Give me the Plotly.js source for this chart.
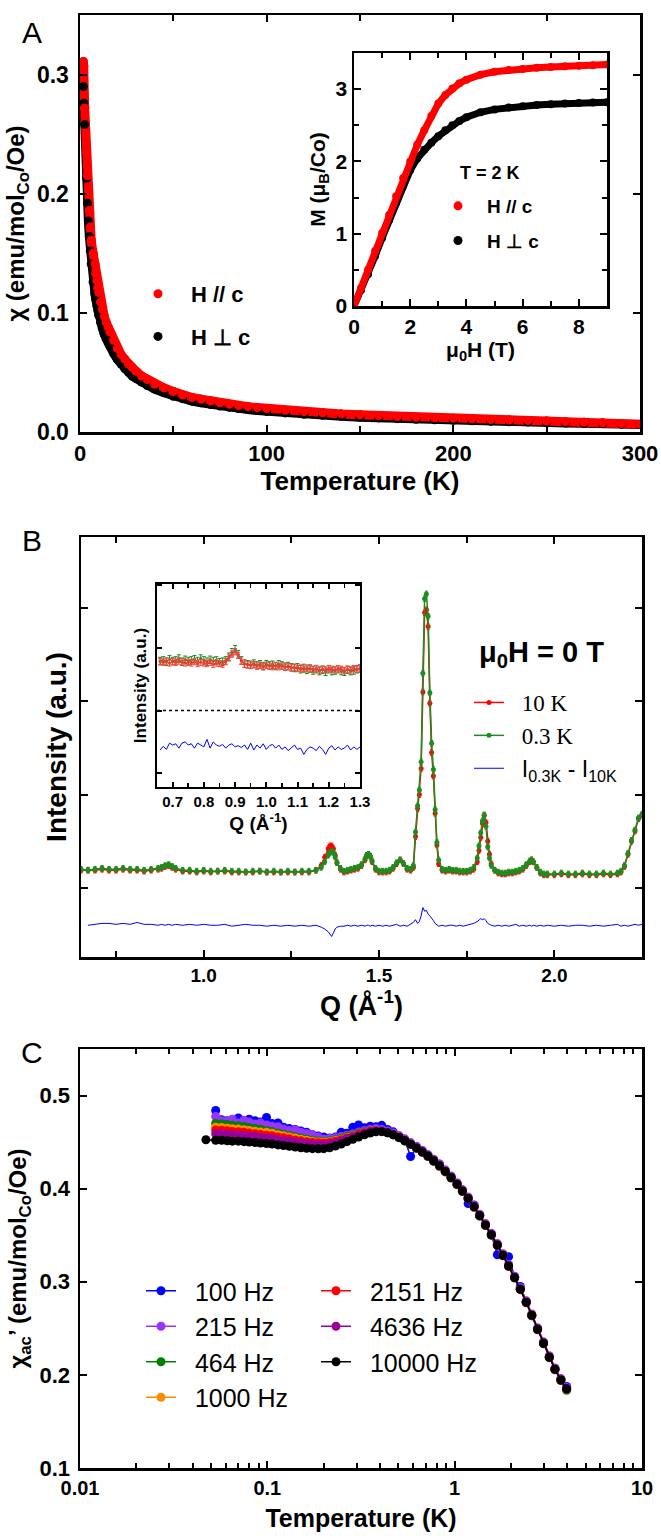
<!DOCTYPE html>
<html><head><meta charset="utf-8">
<script src="https://cdn.plot.ly/plotly-3.0.1.min.js"></script>
<style>body{margin:0;background:#fff}#chart{width:661px;height:1536px}</style>
</head><body><div id="chart"></div>
<script>
// ---------- Panel A: chi vs T ----------
const tempA = [1.8,2,2.5,3.5,4,4.5,5,5.5,6,7, 8,8.5,9,9.5,10,11,12,13,14,15, 16,18,20,22,24,26,28,30,33,36,
  40,45,50,55,60,65,70,75,80,85, 90,95,100,110,120,130,140,150,160,170, 180,190,200,210,220,230,240,250,260,270, 280,290,300];
const chiPar = [.311,.307,.272,.235,.215,.201,.186,.172,.161,.150, .141,.133,.127,.121,.117,.109,.103,.097,.092,.088,
  .084,.077,.070,.065,.061,.057,.054,.051,.047,.044, .040,.037,.034,.031,.029,.0275,.026,.0245,.0233,.0222,
  .0213,.0205,.0197,.0183,.0171,.0161,.0152,.0144,.0137,.013, .0124,.0119,.0115,.011,.0105,.0101,.0097,.0092,.0087,.0082,
  .0077,.0071,.0066];
const chiPerp = [.290,.276,.258,.213,.192,.177,.164,.152,.141,.126, .116,.111,.106,.102,.098,.092,.087,.082,.078,.075,
  .072,.066,.061,.057,.053,.050,.047,.045,.042,.039, .036,.033,.030,.028,.026,.0245,.023,.0218,.0207,.0197,
  .0188,.018,.0173,.016,.0149,.014,.0132,.0124,.0118,.0112, .0107,.0102,.0098,.0094,.009,.0086,.0083,.008,.0076,.0073,
  .007,.0066,.0062];
// Inset A: M vs H at 2 K
const fieldH = [0,0.25,0.5,0.75,1,1.25,1.5,1.75,2,2.25,2.5,2.75,3,3.25,3.5,3.75,4,4.5,5,5.5,6,6.5,7,7.5,8,8.5,9];
const magPar = [0,0.25,0.5,0.76,1.01,1.26,1.52,1.77,2.0,2.23,2.43,2.63,2.80,2.92,3.01,3.08,3.13,3.20,3.24,3.265,3.28,3.295,3.305,3.315,3.325,3.33,3.34];
const magPerp = [0,0.22,0.44,0.69,0.94,1.19,1.43,1.67,1.88,2.04,2.16,2.26,2.35,2.43,2.50,2.56,2.61,2.68,2.72,2.745,2.765,2.78,2.79,2.80,2.81,2.815,2.82];

// ---------- Panel B: neutron diffraction ----------
const qB = [0.65,0.67,0.69,0.71,0.73,0.75,0.77,0.79,0.81,0.83,
  0.85,0.87,0.88,0.89,0.90,0.91,0.92,0.94,0.96,0.98,
  1.00,1.02,1.04,1.06,1.08,1.10,1.12,1.14,1.16,1.18,
  1.20,1.22,1.24,1.26,1.28,1.30,1.32,1.335,1.345,1.355,
  1.36,1.365,1.37,1.375,1.38,1.39,1.40,1.41,1.42,1.43,
  1.44,1.45,1.46,1.465,1.47,1.475,1.48,1.49,1.50,1.51,
  1.52,1.53,1.54,1.55,1.56,1.57,1.58,1.59,1.598,1.604,
  1.61,1.615,1.62,1.625,1.63,1.635,1.64,1.645,1.65,1.655,
  1.66,1.665,1.67,1.68,1.69,1.70,1.71,1.72,1.73,1.74,
  1.75,1.76,1.77,1.78,1.785,1.79,1.795,1.80,1.805,1.81,
  1.815,1.82,1.83,1.84,1.85,1.86,1.87,1.88,1.89,1.90,
  1.91,1.92,1.93,1.935,1.94,1.95,1.96,1.97,1.98,2.00,
  2.02,2.04,2.06,2.08,2.10,2.12,2.14,2.16,2.18,2.19,
  2.20,2.21,2.22,2.23,2.24,2.25];
const int03K = [1.20,1.19,1.20,1.21,1.20,1.20,1.21,1.20,1.20,1.19,
  1.20,1.21,1.22,1.24,1.25,1.23,1.21,1.19,1.19,1.18,
  1.19,1.18,1.18,1.19,1.18,1.18,1.17,1.18,1.18,1.17,
  1.18,1.17,1.18,1.17,1.18,1.18,1.19,1.22,1.28,1.35,
  1.38,1.39,1.38,1.33,1.27,1.21,1.18,1.19,1.20,1.21,
  1.22,1.25,1.31,1.35,1.36,1.34,1.29,1.21,1.18,1.18,
  1.18,1.19,1.22,1.27,1.30,1.26,1.21,1.20,1.24,1.60,
  1.88,2.05,2.35,3.30,4.10,4.15,3.91,3.09,2.55,2.27,
  1.84,1.49,1.30,1.20,1.19,1.20,1.19,1.19,1.18,1.18,
  1.18,1.19,1.22,1.32,1.45,1.59,1.72,1.78,1.66,1.44,
  1.32,1.24,1.19,1.17,1.16,1.16,1.17,1.17,1.18,1.19,
  1.21,1.25,1.29,1.30,1.28,1.22,1.17,1.15,1.15,1.15,
  1.16,1.15,1.15,1.16,1.15,1.15,1.16,1.15,1.16,1.18,
  1.24,1.37,1.51,1.62,1.75,1.79];
const int10K = [1.19,1.19,1.19,1.20,1.19,1.19,1.20,1.19,1.19,1.18,
  1.19,1.20,1.21,1.23,1.24,1.22,1.20,1.18,1.18,1.17,
  1.18,1.17,1.18,1.18,1.17,1.17,1.17,1.17,1.18,1.17,
  1.17,1.17,1.17,1.17,1.17,1.17,1.19,1.24,1.33,1.42,
  1.45,1.45,1.42,1.35,1.27,1.20,1.17,1.18,1.19,1.20,
  1.21,1.24,1.30,1.35,1.36,1.34,1.28,1.20,1.17,1.17,
  1.17,1.18,1.21,1.26,1.30,1.26,1.20,1.19,1.22,1.55,
  1.85,2.00,2.28,3.10,3.95,3.98,3.80,2.98,2.45,2.20,
  1.80,1.46,1.26,1.19,1.18,1.19,1.18,1.18,1.17,1.17,
  1.17,1.18,1.20,1.28,1.40,1.54,1.69,1.78,1.70,1.50,
  1.36,1.26,1.19,1.16,1.15,1.15,1.16,1.16,1.17,1.18,
  1.20,1.24,1.28,1.30,1.28,1.22,1.16,1.14,1.14,1.14,
  1.15,1.14,1.14,1.15,1.14,1.14,1.15,1.14,1.15,1.17,
  1.23,1.36,1.50,1.61,1.74,1.78];
const intDiff = [null,0.60,0.61,0.62,0.62,0.61,0.62,0.61,0.63,0.61,
  0.61,0.60,0.61,0.60,0.61,0.60,0.61,0.60,0.61,0.60,
  0.61,0.60,0.60,0.61,0.59,0.60,0.61,0.60,0.60,0.59,
  0.60,0.59,0.60,0.59,0.60,0.59,0.60,0.58,0.56,0.53,
  0.50,0.48,0.52,0.56,0.58,0.59,0.59,0.60,0.59,0.60,
  0.59,0.60,0.59,0.60,0.60,0.59,0.60,0.59,0.60,0.59,
  0.60,0.59,0.60,0.61,0.59,0.60,0.59,0.61,0.63,0.66,
  0.62,0.64,0.70,0.79,0.75,0.76,0.72,0.70,0.68,0.65,
  0.62,0.60,0.59,0.60,0.59,0.60,0.60,0.59,0.60,0.59,
  0.60,0.61,0.62,0.64,0.66,0.67,0.66,0.67,0.65,0.62,
  0.61,0.60,0.59,0.60,0.59,0.60,0.59,0.60,0.61,0.59,
  0.60,0.59,0.60,0.59,0.60,0.59,0.60,0.59,0.60,0.59,
  0.60,0.59,0.60,0.60,0.59,0.60,0.59,0.60,0.61,0.59,
  0.60,0.59,0.60,0.61,0.60,0.61];
// Inset B (zoom of low-Q region)
const qInset = [0.66,0.67,0.68,0.69,0.70,0.71,0.72,0.73,0.74,0.75,
  0.76,0.77,0.78,0.79,0.80,0.81,0.82,0.83,0.84,0.85,
  0.86,0.87,0.88,0.89,0.90,0.91,0.92,0.93,0.94,0.95,
  0.96,0.97,0.98,0.99,1.00,1.01,1.02,1.03,1.04,1.05,
  1.06,1.07,1.08,1.09,1.10,1.11,1.12,1.13,1.14,1.15,
  1.16,1.17,1.18,1.19,1.20,1.21,1.22,1.23,1.24,1.25,
  1.26,1.27,1.28,1.29,1.30];
const inset10K = [0.78,0.77,0.79,0.76,0.78,0.77,0.79,0.78,0.76,0.77,
  0.76,0.78,0.75,0.77,0.76,0.75,0.77,0.74,0.76,0.75,
  0.74,0.78,0.84,0.90,0.94,0.88,0.79,0.74,0.73,0.72,
  0.73,0.71,0.72,0.70,0.72,0.71,0.70,0.72,0.70,0.71,
  0.69,0.70,0.68,0.69,0.67,0.68,0.66,0.68,0.67,0.66,
  0.67,0.65,0.66,0.65,0.67,0.66,0.65,0.67,0.66,0.64,
  0.66,0.65,0.67,0.66,0.68];
const inset03K = [0.79,0.80,0.78,0.82,0.79,0.80,0.83,0.78,0.81,0.79,
  0.80,0.82,0.79,0.83,0.80,0.78,0.81,0.79,0.80,0.77,
  0.78,0.80,0.86,0.93,0.98,0.90,0.80,0.75,0.74,0.73,
  0.75,0.72,0.74,0.71,0.74,0.72,0.73,0.71,0.74,0.72,
  0.70,0.71,0.69,0.68,0.69,0.66,0.68,0.65,0.67,0.64,
  0.66,0.63,0.65,0.62,0.66,0.63,0.64,0.66,0.63,0.62,
  0.65,0.63,0.64,0.66,0.67];
const insetDiff = [-0.63,-0.57,-0.62,-0.52,-0.55,-0.53,-0.60,-0.52,-0.50,-0.55,
  -0.53,-0.60,-0.52,-0.55,-0.58,-0.46,-0.60,-0.50,-0.55,-0.57,
  -0.54,-0.60,-0.55,-0.53,-0.58,-0.56,-0.59,-0.55,-0.62,-0.52,
  -0.63,-0.55,-0.60,-0.53,-0.62,-0.56,-0.54,-0.60,-0.55,-0.62,
  -0.58,-0.64,-0.59,-0.55,-0.62,-0.60,-0.70,-0.62,-0.58,-0.60,
  -0.64,-0.57,-0.62,-0.70,-0.60,-0.56,-0.63,-0.58,-0.62,-0.60,
  -0.55,-0.63,-0.58,-0.62,-0.58];

// ---------- Panel C: ac susceptibility ----------
const tempC = [0.047,0.053,0.057,0.061,0.065,0.07,0.075,0.08,0.086,0.092,
  0.099,0.106,0.114,0.122,0.131,0.141,0.151,0.162,0.174,0.187,
  0.2,0.215,0.231,0.248,0.266,0.286,0.307,0.33,0.354,0.38,
  0.408,0.438,0.47,0.505,0.542,0.582,0.625,0.671,0.72,0.773,
  0.83,0.891,0.957,1.03,1.1,1.18,1.27,1.36,1.46,1.57,
  1.69,1.81,1.94,2.09,2.24,2.41,2.58,2.77,2.98,3.2,
  3.43,3.69,3.96];
const freqNames = ['100 Hz','215 Hz','464 Hz','1000 Hz','2151 Hz','4636 Hz','10000 Hz'];
const chi100 = [null,.484,.474,.473,.4725,.476,.4705,.4745,.473,.4715,
  .4765,.470,.4705,.466,.4645,.4635,.462,.4605,.458,.4565,
  .4555,.4545,.4555,.4605,.4595,.466,.4685,.4655,.467,.4665,
  .468,.4635,.461,.456,.452,.4345,.4445,.4405,.436,.4295,
  .4265,.4185,.4125,.405,.398,.384,.3825,.372,.361,.3505,
  .329,.3295,.327,.305,.295,.279,.2635,.2495,.2345,.219,
  .2065,.1955,.1875];
const chi215 = [null,.4775,.473,.4725,.4745,.4705,.4735,.4715,.4695,.4705,
  .4685,.467,.4665,.464,.4625,.463,.4605,.4592,.4575,.4555,
  .453,.454,.4548,.456,.4575,.459,.4608,.4625,.4635,.4645,
  .4635,.462,.4598,.457,.4535,.4495,.4455,.4412,.4366,.4316,
  .4262,.4202,.4136,.4064,.399,.391,.382,.3725,.3625,.352,
  .341,.33,.3185,.306,.2935,.2795,.2655,.2505,.2355,.2205,
  .2075,.196,.1865];
const chi464 = [null,.470,.4696,.4688,.468,.4675,.4667,.4658,.4648,.4638,
  .4625,.4613,.4598,.4585,.4572,.4558,.4545,.4533,.4522,.4513,
  .451,.4513,.4525,.4542,.4562,.458,.4595,.461,.4622,.4625,
  .4616,.4601,.4578,.4548,.4512,.4474,.4433,.439,.4345,.4295,
  .424,.418,.4115,.4043,.397,.389,.380,.3705,.3605,.350,
  .339,.328,.3165,.304,.2915,.2775,.2635,.2485,.2335,.2185,
  .2055,.194,.1835];
const chi1000 = [null,.466,.4657,.465,.4643,.464,.4632,.4625,.4617,.4608,
  .4605,.4595,.458,.4568,.4555,.4543,.4531,.452,.451,.4502,
  .45,.4505,.4516,.4532,.455,.4568,.4585,.4603,.4618,.4622,
  .4617,.4603,.4582,.4553,.4518,.448,.444,.4397,.4352,.4302,
  .4247,.4187,.4122,.405,.3977,.3897,.3807,.3712,.3612,.3507,
  .3397,.3287,.3172,.3047,.2922,.2782,.2642,.2492,.2342,.2192,
  .2062,.1947,.1852];
const chi2151 = [null,.463,.4628,.4621,.4614,.4612,.4605,.4598,.459,.4583,
  .4575,.4568,.4556,.4546,.4535,.4524,.4514,.4505,.4498,.4492,
  .449,.4495,.4508,.4525,.4545,.4565,.4585,.4602,.4618,.462,
  .4615,.4602,.458,.455,.4515,.4476,.4436,.4393,.4348,.4298,
  .4243,.4183,.4118,.4046,.3973,.3893,.3803,.3708,.3608,.3503,
  .3393,.3283,.3168,.3043,.2918,.2778,.2638,.2488,.2338,.2188,
  .2058,.1943,.1845];
const chi4636 = [null,.459,.4589,.4584,.4578,.4577,.4571,.4565,.4559,.4553,
  .4545,.4539,.4528,.452,.4511,.4501,.4493,.4486,.448,.4475,
  .4475,.4481,.4494,.4512,.4533,.4555,.4575,.4593,.4611,.462,
  .4618,.4605,.458,.4552,.452,.448,.444,.4398,.4352,.4303,
  .4248,.4188,.4122,.405,.3978,.3898,.3808,.3712,.3612,.3508,
  .3398,.3288,.3172,.3048,.2922,.2782,.2642,.2492,.2342,.2192,
  .2062,.1948,.1855];
const chi10000 = [.4525,.452,.452,.4515,.451,.451,.4505,.450,.4495,.449,
  .4485,.448,.447,.4463,.4455,.4447,.444,.4434,.443,.4428,
  .443,.444,.4458,.448,.4505,.453,.4555,.4578,.4598,.461,
  .4612,.460,.4578,.455,.4515,.4478,.4438,.4395,.435,.430,
  .4245,.4185,.412,.4048,.3975,.3895,.3805,.371,.361,.3505,
  .3395,.3285,.317,.3045,.292,.278,.264,.249,.234,.219,
  .206,.1945,.185];
const chiAC = [chi100,chi215,chi464,chi1000,chi2151,chi4636,chi10000];
const freqColors = ['#0000ff','#9933ff','#008000','#ff8c00','#ff0000','#990099','#000000'];

// ---------- layout helpers ----------
const W = 661, H = 1536;
const px = v => v / W, py = v => 1 - v / H;
const FONT = 'Liberation Sans, Arial, sans-serif';
const GAP = '\u00a0\u00a0';
function ax(o) {
  return Object.assign({showline:true, linecolor:'black', linewidth:2.5, mirror:'ticks', ticks:'inside',
    ticklen:7, tickwidth:2, tickcolor:'black', showgrid:false, zeroline:false, automargin:false, fixedrange:true,
    tickfont:{family:FONT, size:20, color:'black', weight:'bold'}}, o);
}
function ttl(text, size, standoff) {
  return {text:text, font:{family:FONT, size:size, color:'black', weight:'bold'}, standoff:standoff};
}
function tf(size) { return {family:FONT, size:size, color:'black', weight:'bold'}; }

const traces = [];
// Panel A main
traces.push({x:tempA, y:chiPerp, mode:'lines', line:{color:'black', width:9}, xaxis:'x', yaxis:'y', showlegend:false, hoverinfo:'skip'});
traces.push({x:tempA, y:chiPar, mode:'lines', line:{color:'#ff0000', width:9}, xaxis:'x', yaxis:'y', showlegend:false, hoverinfo:'skip'});
traces.push({x:tempA, y:chiPar, mode:'markers', marker:{color:'#ff0000', size:9}, xaxis:'x', yaxis:'y', name:'H // c', legend:'legend', legendgroup:'a1'});
traces.push({x:tempA, y:chiPerp, mode:'markers', marker:{color:'black', size:9}, xaxis:'x', yaxis:'y', name:'H ⊥ c', legend:'legend', legendgroup:'a2'});
traces.push({x:tempA, y:chiPar, mode:'markers', marker:{color:'#ff0000', size:9}, xaxis:'x', yaxis:'y', showlegend:false});
// Inset A
traces.push({x:fieldH, y:magPerp, mode:'lines+markers', line:{color:'black', width:7}, marker:{color:'black', size:8}, xaxis:'x2', yaxis:'y2', showlegend:false});
traces.push({x:fieldH, y:magPar, mode:'lines+markers', line:{color:'#ff0000', width:7}, marker:{color:'#ff0000', size:8}, xaxis:'x2', yaxis:'y2', showlegend:false});
traces.push({x:[null], y:[null], mode:'markers', marker:{color:'#ff0000', size:9}, xaxis:'x2', yaxis:'y2', name:'H // c', legend:'legend2', legendgroup:'b1'});
traces.push({x:[null], y:[null], mode:'markers', marker:{color:'black', size:9}, xaxis:'x2', yaxis:'y2', name:'H ⊥ c', legend:'legend2', legendgroup:'b2'});
// Panel B main
const GREEN = '#1e8c1e';
traces.push({x:qB, y:int10K, mode:'lines+markers', line:{color:'#ff0000', width:1.5}, marker:{color:'#ff0000', size:5},
  error_y:{type:'constant', value:0.03, color:'#ff0000', thickness:1, width:1.5},
  xaxis:'x3', yaxis:'y3', name:GAP + '<span style="font-family:Liberation Serif">10 K</span>', legend:'legend3', legendgroup:'c1'});
traces.push({x:qB, y:int03K, mode:'lines+markers', line:{color:GREEN, width:1.5}, marker:{color:GREEN, size:5},
  error_y:{type:'constant', value:0.03, color:GREEN, thickness:1, width:1.5},
  xaxis:'x3', yaxis:'y3', name:GAP + '<span style="font-family:Liberation Serif">0.3 K</span>', legend:'legend3', legendgroup:'c2'});
traces.push({x:qB, y:intDiff, mode:'lines', line:{color:'#0000ff', width:1}, xaxis:'x3', yaxis:'y3',
  name:GAP + 'I<sub>0.3K</sub> - I<sub>10K</sub>', legend:'legend3', legendgroup:'c3'});
// Inset B
traces.push({x:qInset, y:inset03K, mode:'lines+markers', line:{color:GREEN, width:1}, marker:{color:GREEN, size:3},
  error_y:{type:'constant', value:0.06, color:GREEN, thickness:1, width:2}, xaxis:'x4', yaxis:'y4', showlegend:false});
traces.push({x:qInset, y:inset10K, mode:'lines+markers', line:{color:'#ff3333', width:1}, marker:{color:'#ff3333', size:3},
  error_y:{type:'constant', value:0.05, color:'#ff4444', thickness:1, width:2}, xaxis:'x4', yaxis:'y4', showlegend:false});
traces.push({x:qInset, y:insetDiff, mode:'lines', line:{color:'#0000ff', width:1}, xaxis:'x4', yaxis:'y4', showlegend:false});
// Panel C
chiAC.forEach((arr, i) => {
  traces.push({x:tempC, y:arr, mode:'lines+markers', line:{color:freqColors[i], width:1.5},
    marker:{color:freqColors[i], size:9}, xaxis:'x5', yaxis:'y5', name:GAP + freqNames[i],
    legend: i < 4 ? 'legend4' : 'legend5', legendgroup:'f' + i});
});

const legBase = {xanchor:'left', yanchor:'top', bgcolor:'rgba(0,0,0,0)', borderwidth:0, traceorder:'grouped'};
const ann = (text, x, y, size, bold) => ({text:text, x:px(x), y:py(y), xref:'paper', yref:'paper', xanchor:'center', yanchor:'middle',
  showarrow:false, font:{family:FONT, size:size, color:'black', weight: bold ? 'bold' : 'normal'}});
const layout = {
  width:W, height:H, margin:{l:0, r:0, t:0, b:0}, paper_bgcolor:'white', plot_bgcolor:'rgba(0,0,0,0)',
  font:{family:FONT, color:'black'}, showlegend:true, hovermode:false,
  // A main
  xaxis: ax({domain:[px(80), px(640)], anchor:'y', range:[0,300], dtick:100, tick0:0,
    minor:{ticks:'inside', dtick:50, ticklen:6, tickwidth:2, tickcolor:'black'},
    tickfont:tf(22), title:ttl('Temperature (K)', 26, 6)}),
  yaxis: ax({domain:[py(432), py(15)], anchor:'x', range:[0,0.35], dtick:0.1, tick0:0, tickformat:'.1f',
    tickfont:tf(23), ticklabelstandoff:4, title:ttl('χ (emu/mol<sub>Co</sub>/Oe)', 24, 6)}),
  // A inset
  xaxis2: ax({domain:[px(354), px(607)], anchor:'y2', range:[0,9], dtick:2, tick0:0,
    minor:{ticks:'inside', dtick:1, ticklen:5, tickwidth:2, tickcolor:'black'},
    tickfont:tf(21), title:ttl('μ<sub>0</sub>H (T)', 21, 5)}),
  yaxis2: ax({domain:[py(306), py(53)], anchor:'x2', range:[0,3.5], dtick:1, tick0:0,
    minor:{ticks:'inside', dtick:0.5, ticklen:5, tickwidth:2, tickcolor:'black'},
    tickfont:tf(21), title:ttl('M (μ<sub>B</sub>/Co)', 21, 5)}),
  // B main
  xaxis3: ax({domain:[px(81), px(642)], anchor:'y3', range:[0.65,2.25], dtick:0.5, tick0:0, tickformat:'.1f',
    minor:{ticks:'inside', dtick:0.25, tick0:0, ticklen:6, tickwidth:2, tickcolor:'black'},
    tickfont:tf(19), title:ttl('Q (Å<sup>-1</sup>)', 27, 6)}),
  yaxis3: ax({domain:[py(957), py(537)], anchor:'x3', range:[0.26,4.76], dtick:1, tick0:0, showticklabels:false,
    title:ttl('Intensity (a.u.)', 28, 4)}),
  // B inset
  xaxis4: ax({domain:[px(157), px(360)], anchor:'y4', range:[0.65,1.3], dtick:0.1, tick0:0, tickformat:'.1f',
    minor:{ticks:'inside', dtick:0.05, tick0:0, ticklen:4, tickwidth:1.5, tickcolor:'black'}, linewidth:2, ticklen:5,
    tickfont:tf(15), title:ttl('Q (Å<sup>-1</sup>)', 19, 4)}),
  yaxis4: ax({domain:[py(787), py(584)], anchor:'x4', range:[-1.22,2.02], dtick:1, tick0:0, showticklabels:false,
    linewidth:2, ticklen:5, title:ttl('Intensity (a.u.)', 17, 4)}),
  // C
  xaxis5: ax({domain:[px(80), px(642)], anchor:'y5', type:'log', range:[-2,1], dtick:1,
    minor:{ticks:'inside', dtick:'D1', ticklen:5, tickwidth:2, tickcolor:'black'},
    tickfont:tf(20), title:ttl('Temperature (K)', 25, 12)}),
  yaxis5: ax({domain:[py(1468), py(1049)], anchor:'x5', range:[0.1,0.55], dtick:0.1, tick0:0, tickformat:'.1f',
    tickfont:tf(22), ticklabelstandoff:3, title:ttl('χ<sub>ac</sub>’ (emu/mol<sub>Co</sub>/Oe)', 24, 6)}),
  legend: Object.assign({}, legBase, {x:px(125), y:py(273), tracegroupgap:11, itemwidth:56, font:tf(22)}),
  legend2: Object.assign({}, legBase, {x:px(429), y:py(187), tracegroupgap:7, itemwidth:48, font:tf(19)}),
  legend3: Object.assign({}, legBase, {x:px(469), y:py(681), tracegroupgap:0, itemwidth:30, font:{family:FONT, size:23, color:'black'}}),
  legend4: Object.assign({}, legBase, {x:px(141), y:py(1268), tracegroupgap:0, itemwidth:30, font:{family:FONT, size:25, color:'black'}}),
  legend5: Object.assign({}, legBase, {x:px(316), y:py(1268), tracegroupgap:0, itemwidth:30, font:{family:FONT, size:25, color:'black'}}),
  shapes:[{type:'line', xref:'x4 domain', x0:0, x1:1, yref:'y4', y0:0, y1:0, line:{color:'black', width:1.5, dash:'dot'}}],
  annotations:[
    ann('A', 32, 32, 30, false),
    ann('B', 32, 540, 30, false),
    ann('C', 32, 1052, 30, false),
    ann('T = 2 K', 490, 173, 18, true),
    ann('μ<sub>0</sub>H = 0 T', 541, 654, 29, true)
  ]
};
Plotly.newPlot('chart', traces, layout, {staticPlot:true, displayModeBar:false});
</script></body></html>
